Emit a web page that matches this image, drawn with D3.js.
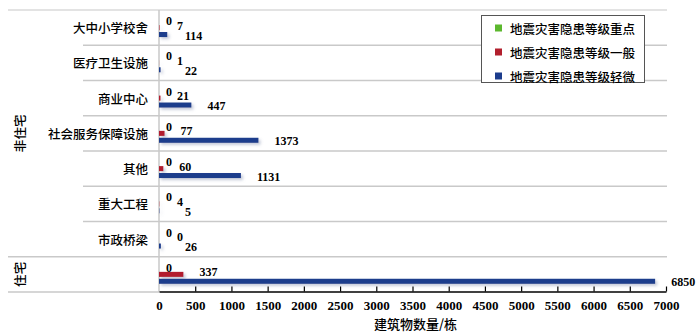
<!DOCTYPE html>
<html>
<head>
<meta charset="utf-8">
<script src="https://cdn.jsdelivr.net/npm/d3@7/dist/d3.min.js"></script>
<style>
  html, body { margin: 0; padding: 0; background: #fff; }
  svg { display: block; }
  .cjk { font-family: "Noto Sans CJK SC", sans-serif; font-weight: 500; fill: #000; }
  .num { font-family: "Liberation Serif", "DejaVu Serif", serif; font-weight: bold; fill: #000; }
</style>
</head>
<body>
<svg id="chart" width="700" height="335"></svg>
<script>
// Building counts by category and seismic hazard level
const categories = ["大中小学校舍", "医疗卫生设施", "商业中心", "社会服务保障设施", "其他", "重大工程", "市政桥梁", "住宅"];
const categoryLabels = ["大中小学校舍", "医疗卫生设施", "商业中心", "社会服务保障设施", "其他", "重大工程", "市政桥梁", ""];
const groupNames = ["非住宅", "住宅"];
const groupSizes = [7, 1];

const seriesNames = ["地震灾害隐患等级重点", "地震灾害隐患等级一般", "地震灾害隐患等级轻微"];
const seriesColors = ["#5cb82e", "#b21f2d", "#1c3c8c"];
const keyValues = [0, 0, 0, 0, 0, 0, 0, 0];
const generalValues = [7, 1, 21, 77, 60, 4, 0, 337];
const minorValues = [114, 22, 447, 1373, 1131, 5, 26, 6850];
const seriesValues = [keyValues, generalValues, minorValues];

const xTicks = [0, 500, 1000, 1500, 2000, 2500, 3000, 3500, 4000, 4500, 5000, 5500, 6000, 6500, 7000];
const xTitle = "建筑物数量/栋";

const svg = d3.select("#chart");

const plotLeft = 159, plotRight = 666, plotTop = 10, plotBottom = 292, outerLeft = 8, subLeft = 83;

const x = d3.scaleLinear().domain([0, 7000]).range([plotLeft, plotRight]);
const y = d3.scaleBand().domain(categories).range([plotTop, plotBottom]).paddingInner(0).paddingOuter(0);
const ySub = d3.scaleBand().domain(d3.range(3)).range([0, y.bandwidth()]).paddingInner(0.27).paddingOuter(1.185);

// soft drop shadow behind bars
const defs = svg.append("defs");
const f = defs.append("filter").attr("id", "shadow").attr("x", "-20%").attr("y", "-100%").attr("width", "140%").attr("height", "300%");
f.append("feDropShadow").attr("dx", 2).attr("dy", 2).attr("stdDeviation", 1.6)
  .attr("flood-color", "#7a86a8").attr("flood-opacity", 0.45);

// row separators
const grid = svg.append("g").attr("stroke", "#c9c9c9").attr("stroke-width", 1.5);
grid.append("line").attr("x1", outerLeft).attr("x2", plotRight + 1).attr("y1", plotTop).attr("y2", plotTop).attr("stroke", "#dadada");
let idx = 0;
const groupStarts = [];
groupSizes.forEach((n, g) => {
  groupStarts.push(idx);
  for (let i = 0; i < n; i++) {
    const cat = categories[idx + i];
    if (i > 0) {
      grid.append("line").attr("x1", subLeft).attr("x2", plotRight + 1)
        .attr("y1", y(cat)).attr("y2", y(cat));
    } else if (idx > 0) {
      grid.append("line").attr("x1", outerLeft).attr("x2", plotRight + 1)
        .attr("y1", y(cat)).attr("y2", y(cat));
    }
  }
  idx += n;
});
grid.append("line").attr("x1", outerLeft).attr("x2", plotLeft).attr("y1", plotBottom).attr("y2", plotBottom);
grid.append("line").attr("x1", plotLeft).attr("x2", plotLeft).attr("y1", plotTop).attr("y2", plotBottom);

// bars
const bars = svg.append("g").attr("filter", "url(#shadow)");
seriesValues.forEach((vals, s) => {
  bars.selectAll(null).data(vals).join("rect")
    .attr("x", x(0))
    .attr("y", (d, i) => y(categories[i]) + ySub(s))
    .attr("width", d => Math.max(0, x(d) - x(0)))
    .attr("height", ySub.bandwidth())
    .attr("fill", seriesColors[s]);
});

// value labels
const labelDx = [7, 16, 16];
const labelMin = [166, 177, 185];
const labelDy = [0.5, -2, 1];
const labels = svg.append("g").attr("font-size", 12);
seriesValues.forEach((vals, s) => {
  labels.selectAll(null).data(vals).join("text")
    .attr("class", "num")
    .attr("x", d => Math.max(x(d) + labelDx[s], labelMin[s]))
    .attr("y", (d, i) => y(categories[i]) + ySub(s) + ySub.bandwidth() / 2 + labelDy[s])
    .attr("dominant-baseline", "central")
    .text(d => d);
});

// category labels
svg.append("g").selectAll("text").data(categories).join("text")
  .attr("class", "cjk")
  .attr("font-size", 12.5)
  .attr("x", 148)
  .attr("y", d => y(d) + y.bandwidth() / 2)
  .attr("text-anchor", "end")
  .attr("dominant-baseline", "central")
  .text((d, i) => categoryLabels[i]);

// group labels (vertical)
groupNames.forEach((g, gi) => {
  const first = categories[groupStarts[gi]];
  const last = categories[groupStarts[gi] + groupSizes[gi] - 1];
  const cy = (y(first) + y(last) + y.bandwidth()) / 2;
  svg.append("text").attr("class", "cjk").attr("font-size", 12.5)
    .attr("transform", `translate(19,${cy}) rotate(-90)`)
    .attr("text-anchor", "middle").attr("dominant-baseline", "central")
    .text(g);
});

// x axis
const axis = svg.append("g").attr("transform", `translate(0,${plotBottom - 0.5})`)
  .call(d3.axisBottom(x).tickValues(xTicks).tickSize(-5).tickSizeOuter(0).tickPadding(0).tickFormat(d3.format("d")));
axis.select(".domain").attr("stroke", "#000").attr("stroke-width", 1.3);
axis.selectAll(".tick line").attr("stroke", "#000").attr("stroke-width", 1.2)
  .filter(d => d === 0).remove();
axis.selectAll(".tick text").attr("class", "num").attr("font-size", 13)
  .attr("y", 14).attr("dy", null).attr("dominant-baseline", "central");

svg.append("text").attr("class", "cjk").attr("font-size", 13)
  .attr("x", (plotLeft + plotRight) / 2 + 3).attr("y", 323)
  .attr("text-anchor", "middle").attr("dominant-baseline", "central")
  .text(xTitle);

// legend
const legend = svg.append("g");
legend.append("rect").attr("x", 481.5).attr("y", 15.5).attr("width", 163).attr("height", 67)
  .attr("fill", "#fff").attr("stroke", "#555").attr("stroke-width", 1);
const legendY = d3.scalePoint().domain(d3.range(3)).range([28, 76]);
seriesNames.forEach((name, s) => {
  legend.append("rect").attr("x", 495).attr("y", legendY(s) - 3.5).attr("width", 7).attr("height", 7)
    .attr("fill", seriesColors[s]);
  legend.append("text").attr("class", "cjk").attr("font-size", 12.5)
    .attr("x", 510).attr("y", legendY(s))
    .attr("dominant-baseline", "central").text(name);
});
</script>
</body>
</html>
